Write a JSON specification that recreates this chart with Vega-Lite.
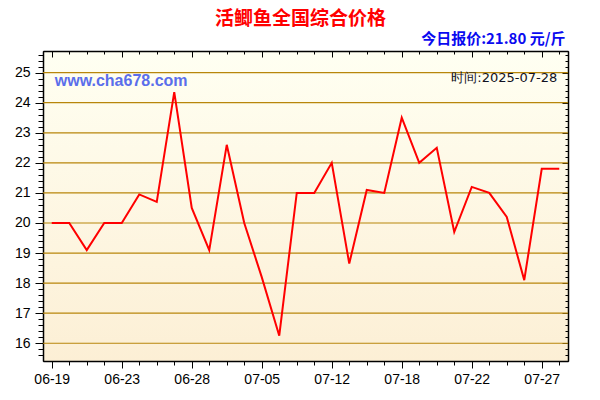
{
  "$schema": "https://vega.github.io/schema/vega-lite/v6.json",
  "width": 525,
  "height": 310,
  "autosize": {"type": "none"},
  "padding": {"left": 43, "top": 51, "right": 32, "bottom": 39},
  "background": "#FFFFFF",
  "view": {
    "stroke": "#000000",
    "strokeWidth": 1,
    "fill": {"gradient": "linear", "x1": 0, "y1": 0, "x2": 0, "y2": 1,
      "stops": [{"offset": 0, "color": "#FFFFF2"}, {"offset": 1, "color": "#FCEFD5"}]}
  },
  "title": {
    "text": "活鲫鱼全国综合价格",
    "font": "Noto Sans CJK SC",
    "fontSize": 19,
    "fontWeight": "bold",
    "color": "#FF0000",
    "anchor": "middle",
    "dx": -5,
    "offset": 2
  },
  "datasets": {
    "prices": [
      {"date": "06-19", "price": 20.0},
      {"date": "06-20", "price": 20.0},
      {"date": "06-21", "price": 19.1},
      {"date": "06-22", "price": 20.0},
      {"date": "06-23", "price": 20.0},
      {"date": "06-24", "price": 20.95},
      {"date": "06-25", "price": 20.7},
      {"date": "06-26", "price": 24.35},
      {"date": "06-28", "price": 20.5},
      {"date": "06-30", "price": 19.1},
      {"date": "07-01", "price": 22.6},
      {"date": "07-03", "price": 20.0},
      {"date": "07-05", "price": 18.2},
      {"date": "07-07", "price": 16.25},
      {"date": "07-08", "price": 21.0},
      {"date": "07-10", "price": 21.0},
      {"date": "07-12", "price": 22.0},
      {"date": "07-14", "price": 18.65},
      {"date": "07-15", "price": 21.1},
      {"date": "07-16", "price": 21.0},
      {"date": "07-18", "price": 23.5},
      {"date": "07-19", "price": 22.0},
      {"date": "07-20", "price": 22.5},
      {"date": "07-21", "price": 19.7},
      {"date": "07-22", "price": 21.2},
      {"date": "07-23", "price": 21.0},
      {"date": "07-24", "price": 20.2},
      {"date": "07-25", "price": 18.1},
      {"date": "07-27", "price": 21.8},
      {"date": "07-28", "price": 21.8}
    ],
    "gridlines": [
      {"level": 16}, {"level": 17}, {"level": 18}, {"level": 19}, {"level": 20},
      {"level": 21}, {"level": 22}, {"level": 23}, {"level": 24}, {"level": 25}
    ]
  },
  "data": {"name": "prices"},
  "resolve": {"axis": {"x": "independent", "y": "independent"}},
  "layer": [
    {
      "mark": {"type": "line", "opacity": 0},
      "encoding": {
        "x": {
          "field": "date", "type": "ordinal",
          "scale": {"type": "point", "padding": 0.5},
          "axis": {
            "orient": "bottom",
            "title": null,
            "labelAngle": 0,
            "labelFont": "Liberation Sans",
            "labelFontSize": 14,
            "labelColor": "#000000",
            "labelPadding": 4,
            "domainColor": "#000000",
            "domainWidth": 1.5,
            "tickColor": "#000000",
            "grid": false,
            "labelExpr": "indexof(['06-19','06-23','06-28','07-05','07-12','07-18','07-22','07-27'], datum.value) >= 0 ? datum.label : ''",
            "tickSize": {"condition": {"test": "indexof(['06-19','06-23','06-28','07-05','07-12','07-18','07-22','07-27'], datum.value) >= 0", "value": 7}, "value": 4}
          }
        },
        "y": {
          "field": "price", "type": "quantitative",
          "scale": {"domain": [15.41, 25.72], "nice": false, "zero": false},
          "axis": {
            "orient": "left",
            "title": null,
            "values": [15.6,15.8,16,16.2,16.4,16.6,16.8,17,17.2,17.4,17.6,17.8,18,18.2,18.4,18.6,18.8,19,19.2,19.4,19.6,19.8,20,20.2,20.4,20.6,20.8,21,21.2,21.4,21.6,21.8,22,22.2,22.4,22.6,22.8,23,23.2,23.4,23.6,23.8,24,24.2,24.4,24.6,24.8,25,25.2,25.4,25.6],
            "format": ".0f",
            "labelExpr": "datum.value % 1 === 0 ? datum.label : ''",
            "labelFont": "Liberation Sans",
            "labelFontSize": 14,
            "labelColor": "#000000",
            "labelPadding": 5,
            "domainColor": "#000000",
            "domainWidth": 1.5,
            "tickColor": "#000000",
            "tickSize": {"condition": {"test": "datum.value % 1 === 0", "value": 8}, "value": 5},
            "grid": false
          }
        }
      }
    },
    {
      "data": {"name": "gridlines"},
      "mark": {"type": "rule", "color": "#B8860B", "strokeWidth": 1.2},
      "encoding": {
        "y": {"field": "level", "type": "quantitative", "axis": null}
      }
    },
    {
      "mark": {"type": "line", "color": "#FF0000", "strokeWidth": 2},
      "encoding": {
        "x": {
          "field": "date", "type": "ordinal",
          "axis": {
            "orient": "top",
            "labels": false,
            "grid": false,
            "domainColor": "#000000",
            "domainWidth": 1.5,
            "tickColor": "#000000",
            "tickSize": {"condition": {"test": "indexof(['06-19','06-23','06-28','07-05','07-12','07-18','07-22','07-27'], datum.value) >= 0", "value": -6}, "value": -3},
            "title": "今日报价:21.80 元/斤",
            "titleFont": "Noto Sans CJK SC",
            "titleFontSize": 15,
            "titleFontWeight": "bold",
            "titleColor": "#0A0AF0",
            "titleAlign": "right",
            "titleAnchor": "end",
            "titleBaseline": "alphabetic",
            "titleX": 522,
            "titleY": -8
          }
        },
        "y": {
          "field": "price", "type": "quantitative",
          "axis": {
            "orient": "right",
            "title": null,
            "labels": false,
            "grid": false,
            "values": [15.6,15.8,16,16.2,16.4,16.6,16.8,17,17.2,17.4,17.6,17.8,18,18.2,18.4,18.6,18.8,19,19.2,19.4,19.6,19.8,20,20.2,20.4,20.6,20.8,21,21.2,21.4,21.6,21.8,22,22.2,22.4,22.6,22.8,23,23.2,23.4,23.6,23.8,24,24.2,24.4,24.6,24.8,25,25.2,25.4,25.6],
            "domainColor": "#000000",
            "domainWidth": 1.5,
            "tickColor": "#000000",
            "tickSize": {"condition": {"test": "datum.value % 1 === 0", "value": -6}, "value": -3}
          }
        }
      }
    },
    {
      "data": {"values": [{}]},
      "mark": {"type": "text", "align": "left", "baseline": "middle", "dx": 3, "font": "Liberation Sans", "fontSize": 16, "fontWeight": "bold", "color": "#5A6EEB"},
      "encoding": {
        "x": {"datum": "06-19", "type": "ordinal", "axis": null},
        "y": {"datum": 24.72, "type": "quantitative", "axis": null},
        "text": {"value": "www.cha678.com"}
      }
    },
    {
      "data": {"values": [{}]},
      "mark": {"type": "text", "align": "right", "baseline": "middle", "dx": -2, "font": "DejaVu Sans", "fontSize": 13, "color": "#111122"},
      "encoding": {
        "x": {"datum": "07-28", "type": "ordinal", "axis": null},
        "y": {"datum": 24.83, "type": "quantitative", "axis": null},
        "text": {"value": "时间:2025-07-28"}
      }
    }
  ]
}
